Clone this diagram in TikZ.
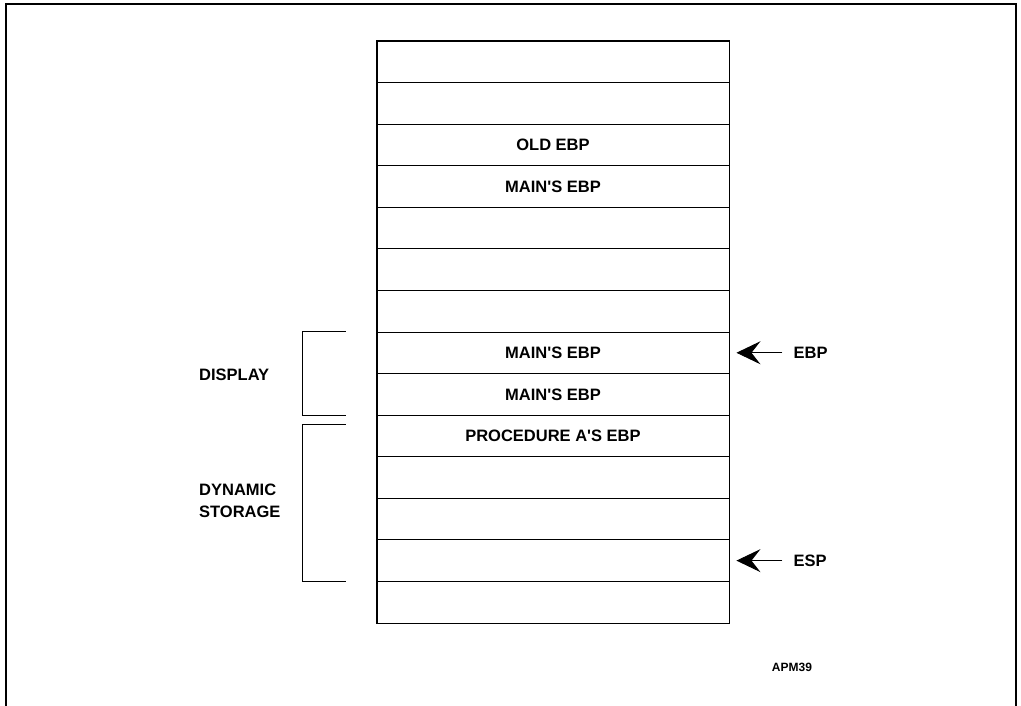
\documentclass[tikz,border=0pt]{standalone}
\usepackage{fontspec}
\setmainfont{Liberation Sans}
\usetikzlibrary{arrows.meta, positioning}

\begin{document}
\begin{tikzpicture}[
    x=1pt, y=-1pt,
    cell/.style={draw, line width=0.9pt, minimum width=352pt, minimum height=41.57pt, inner sep=0pt, font=\bfseries\fontsize{16.5}{19}\selectfont},
    lbl/.style={font=\bfseries\fontsize{16.5}{22}\selectfont, align=left, inner sep=0pt},
    ptr/.style={-{Stealth[length=24pt, width=23pt, inset=9pt]}, line width=0.9pt},
    brace/.style={line width=0.9pt}
]
    \useasboundingbox (0,0) rectangle (1021,706);
    \draw[line width=1.4pt] (6,710) -- (6,4) -- (1016,4) -- (1016,710);

    % stack of frame slots
    \foreach \i/\txt in {1/, 2/, 3/{OLD EBP}, 4/{MAIN\textquotesingle S EBP}, 5/, 6/, 7/,
                         8/{MAIN\textquotesingle S EBP}, 9/{MAIN\textquotesingle S EBP},
                         10/{PROCEDURE A\textquotesingle S EBP}, 11/, 12/, 13/, 14/}
        \node[cell] (r\i) at (553, {41+(\i-0.5)*41.57}) {\txt};
    \draw[line width=1.8pt] (r1.north west) rectangle (r14.south east);

    % pointers
    \node[lbl, right=64pt of r8] (ebp) {EBP};
    \node[lbl, right=64pt of r13] (esp) {ESP};
    \coordinate[right=7pt of r8] (ebptip);
    \coordinate[right=7pt of r13] (esptip);
    \draw[ptr] ([xshift=-11pt]ebp.west) -- (ebptip);
    \draw[ptr] ([xshift=-11pt]esp.west) -- (esptip);

    % brackets
    \draw[brace] ([xshift=-31pt]r8.north west) -| ([xshift=-74pt]r9.south west) -- ([xshift=-31pt]r9.south west);
    \draw[brace] ([xshift=-31pt, yshift=-10pt]r10.north west) -| ([xshift=-74pt]r13.south west) -- ([xshift=-31pt]r13.south west);
    \node[lbl, anchor=west] (display) at (199,375) {DISPLAY};
    \node[lbl, anchor=west] (dynamic) at (199,501) {DYNAMIC\\STORAGE};

    \node[font=\bfseries\fontsize{12}{14}\selectfont, inner sep=0pt] (apm) at (792,667) {APM39};
\end{tikzpicture}
\end{document}
